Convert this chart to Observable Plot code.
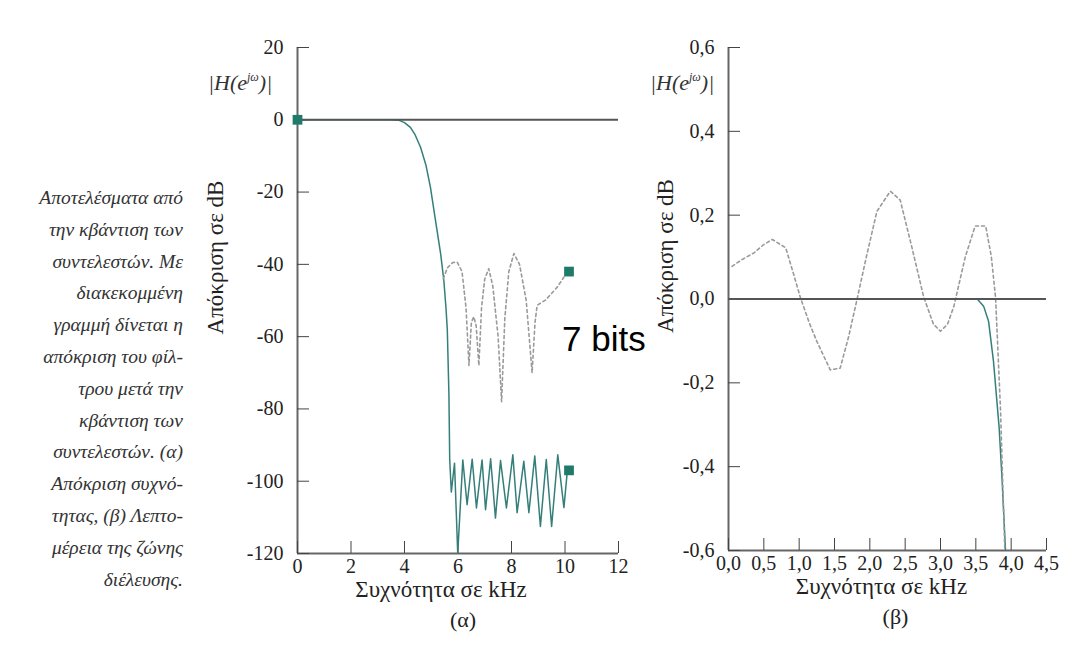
<!DOCTYPE html>
<html><head><meta charset="utf-8">
<script src="https://cdn.jsdelivr.net/npm/d3@7"></script>
<script src="https://cdn.jsdelivr.net/npm/@observablehq/plot@0.6"></script>
<style>
body{margin:0;background:#fff;}
#wrap{position:relative;width:1066px;height:648px;overflow:hidden;font-family:"Liberation Serif","DejaVu Serif","Times New Roman",Times,serif;color:#222;}
#wrap svg{position:absolute;top:0;}
.caption{position:absolute;left:0;top:182px;width:183px;text-align:right;font-family:"Liberation Serif",serif;font-style:italic;font-size:19.5px;line-height:31.8px;color:#333;}
.hlabel{position:absolute;font-family:"Liberation Serif",serif;font-style:italic;font-size:22px;color:#333;white-space:nowrap;}
.hlabel sup{font-size:12px;vertical-align:9px;}
.bits{position:absolute;left:562px;top:321px;font-family:"Liberation Sans",Arial,sans-serif;font-size:35px;line-height:35px;color:#000;z-index:5;}
</style></head>
<body><div id="wrap">
<div class="caption">Αποτελέσματα από<br>την κβάντιση των<br>συντελεστών. Με<br>διακεκομμένη<br>γραμμή δίνεται η<br>απόκριση του φίλ-<br>τρου μετά την<br>κβάντιση των<br>συντελεστών. (α)<br>Απόκριση συχνό-<br>τητας, (β) Λεπτο-<br>μέρεια της ζώνης<br>διέλευσης.</div>
<div class="hlabel" style="left:208px;top:70px;">|H(e<sup>jω</sup>)|</div>
<div class="hlabel" style="left:650px;top:70px;">|H(e<sup>jω</sup>)|</div>
<div class="bits">7 bits</div>
</div>
<script>
// ---- tick values ----
const leftXTicks = [0, 2, 4, 6, 8, 10, 12];
const leftYTicks = [-120, -100, -80, -60, -40, -20, 0, 20];
const rightXTicks = [0, 0.5, 1, 1.5, 2, 2.5, 3, 3.5, 4, 4.5];
const rightYTicks = [-0.6, -0.4, -0.2, 0, 0.2, 0.4, 0.6];

// ---- texts ----
const yTitle = "Απόκριση σε dB";
const xTitle = "Συχνότητα σε kHz";
const panelA = "(α)";
const panelB = "(β)";

// ---- (α) original filter (solid) ----
const origFreqA = [0, 3.5, 3.75, 3.85, 4.0, 4.22, 4.4, 4.6, 4.8, 4.97, 5.16, 5.35, 5.47, 5.55, 5.6, 5.66, 5.69, 5.75, 5.87, 5.99, 6.18, 6.34, 6.53, 6.69, 6.90, 7.03, 7.22, 7.40, 7.59, 7.81, 8.05, 8.21, 8.46, 8.65, 8.87, 9.08, 9.30, 9.50, 9.73, 9.96, 10.08];
const origDbA   = [0, 0, -0.1, -0.3, -0.8, -2.1, -4.2, -7.6, -12.5, -18.7, -27.9, -37, -44.4, -52, -58, -75.7, -94, -103, -95, -120, -94.1, -106.5, -93.9, -107.4, -94.1, -107.9, -93.8, -110.2, -94.3, -107.4, -92.7, -108.7, -94.5, -108.7, -93, -112.5, -94, -112.5, -92.7, -107.3, -97.7];

// ---- (α) quantized 7 bits (dashed) ----
const quantFreqA = [5.45, 5.6, 5.8, 5.97, 6.15, 6.3, 6.41, 6.5, 6.59, 6.68, 6.78, 6.88, 7.0, 7.15, 7.3, 7.5, 7.63, 7.75, 7.9, 8.09, 8.3, 8.55, 8.77, 8.88, 8.96, 9.27, 9.71, 9.96];
const quantDbA   = [-44, -41, -39.5, -39.4, -42, -52, -68, -56, -54.5, -57, -68, -52, -44, -41.2, -46, -60, -78, -55, -42, -37, -40, -50, -70, -56, -51.3, -49.9, -46.3, -43.5];

// ---- (α) square markers ----
const markFreqA = [0, 10.15, 10.15];
const markDbA   = [0, -42, -97];

// ---- (β) passband detail ----
const origFreqB = [0, 3.52, 3.61, 3.68, 3.75, 3.83, 3.87, 3.92];
const origDbB   = [0, 0, -0.017, -0.053, -0.149, -0.307, -0.427, -0.6];
const quantFreqB = [0.05, 0.2, 0.36, 0.5, 0.62, 0.81, 0.92, 1.02, 1.15, 1.25, 1.44, 1.58, 1.7, 1.82, 1.95, 2.1, 2.29, 2.43, 2.6, 2.76, 2.9, 3.0, 3.1, 3.19, 3.35, 3.49, 3.64, 3.72, 3.78, 3.85, 3.91];
const quantDbB   = [0.078, 0.095, 0.11, 0.13, 0.142, 0.122, 0.06, 0.002, -0.06, -0.101, -0.169, -0.165, -0.09, 0, 0.1, 0.209, 0.257, 0.236, 0.12, 0.006, -0.06, -0.077, -0.06, -0.017, 0.1, 0.174, 0.174, 0.1, 0.002, -0.268, -0.6];

const teal = "#347f7a", squareCol = "#1f7a6a", axisCol = "#666", dashCol = "#9a9a9a";
const serif = "'Liberation Serif', 'DejaVu Serif', 'Times New Roman', serif";
const zip = (xs, ys) => xs.map((x, i) => ({x, y: ys[i]}));
const comma = d => d3.format(".1f")(d).replace(".", ",").replace("−", "-");

function panel({xTicks, yTicks, xDomain, yDomain, solid, dashed, marks = [], yFmt, xFmt, width, ml, mr, mb, yDx, xTitleDx, panelDx, panelLabel}) {
  return Plot.plot({
    width, height: 648, marginLeft: ml, marginRight: mr, marginTop: 47, marginBottom: mb,
    style: {background: "transparent", fontFamily: serif, fontSize: "20px", color: "#222", overflow: "visible"},
    x: {domain: xDomain},
    y: {domain: yDomain},
    marks: [
      Plot.ruleX([xDomain[0]], {stroke: axisCol, strokeWidth: 2}),
      Plot.ruleY([yDomain[0]], {stroke: axisCol, strokeWidth: 2}),
      Plot.axisX({ticks: xTicks, tickSize: -12, tickPadding: 17, stroke: "#444", tickFormat: xFmt, label: null, fontFamily: serif, fontSize: 20}),
      Plot.axisY({ticks: yTicks, tickSize: -12, tickPadding: 26, stroke: "#444", tickFormat: yFmt, label: null, fontFamily: serif, fontSize: 20}),
      Plot.line(solid, {x: "x", y: "y", stroke: teal, strokeWidth: 1.5, clip: true}),
      Plot.line(dashed, {x: "x", y: "y", stroke: dashCol, strokeWidth: 1.6, strokeDasharray: "3,3", clip: true}),
      Plot.ruleY([0], {stroke: "#555", strokeWidth: 2}),
      ...marks,
      Plot.text([yTitle], {frameAnchor: "left", textAnchor: "middle", rotate: -90, dx: yDx, dy: -43, fontSize: 23, fill: "#222", fontFamily: serif}),
      Plot.text([xTitle], {frameAnchor: "bottom", textAnchor: "middle", dy: 43, dx: xTitleDx, fontSize: 23, fill: "#222", fontFamily: serif}),
      Plot.text([panelLabel], {frameAnchor: "bottom", textAnchor: "middle", dy: 73, dx: panelDx, fontSize: 22, fill: "#222", fontFamily: serif})
    ]
  });
}

const left = panel({
  xTicks: leftXTicks, yTicks: leftYTicks, xDomain: [0, 12], yDomain: [-120, 20],
  solid: zip(origFreqA, origDbA), dashed: zip(quantFreqA, quantDbA),
  marks: [Plot.dot(zip(markFreqA, markDbA), {x: "x", y: "y", symbol: "square", r: 5.5, fill: squareCol})],
  yFmt: d => String(d), xFmt: d => String(d),
  width: 440, ml: 107, mr: 12, mb: 95, yDx: -82, xTitleDx: -17, panelDx: 5, panelLabel: panelA
});
left.style.left = "190px";

const right = panel({
  xTicks: rightXTicks, yTicks: rightYTicks, xDomain: [0, 4.5], yDomain: [-0.6, 0.6],
  solid: zip(origFreqB, origDbB), dashed: zip(quantFreqB, quantDbB),
  yFmt: comma, xFmt: comma,
  width: 426, ml: 88, mr: 20, mb: 98, yDx: -63, xTitleDx: -6, panelDx: 8, panelLabel: panelB
});
right.style.left = "640px";

const wrap = document.getElementById("wrap");
wrap.appendChild(left);
wrap.appendChild(right);
</script>
</body></html>
